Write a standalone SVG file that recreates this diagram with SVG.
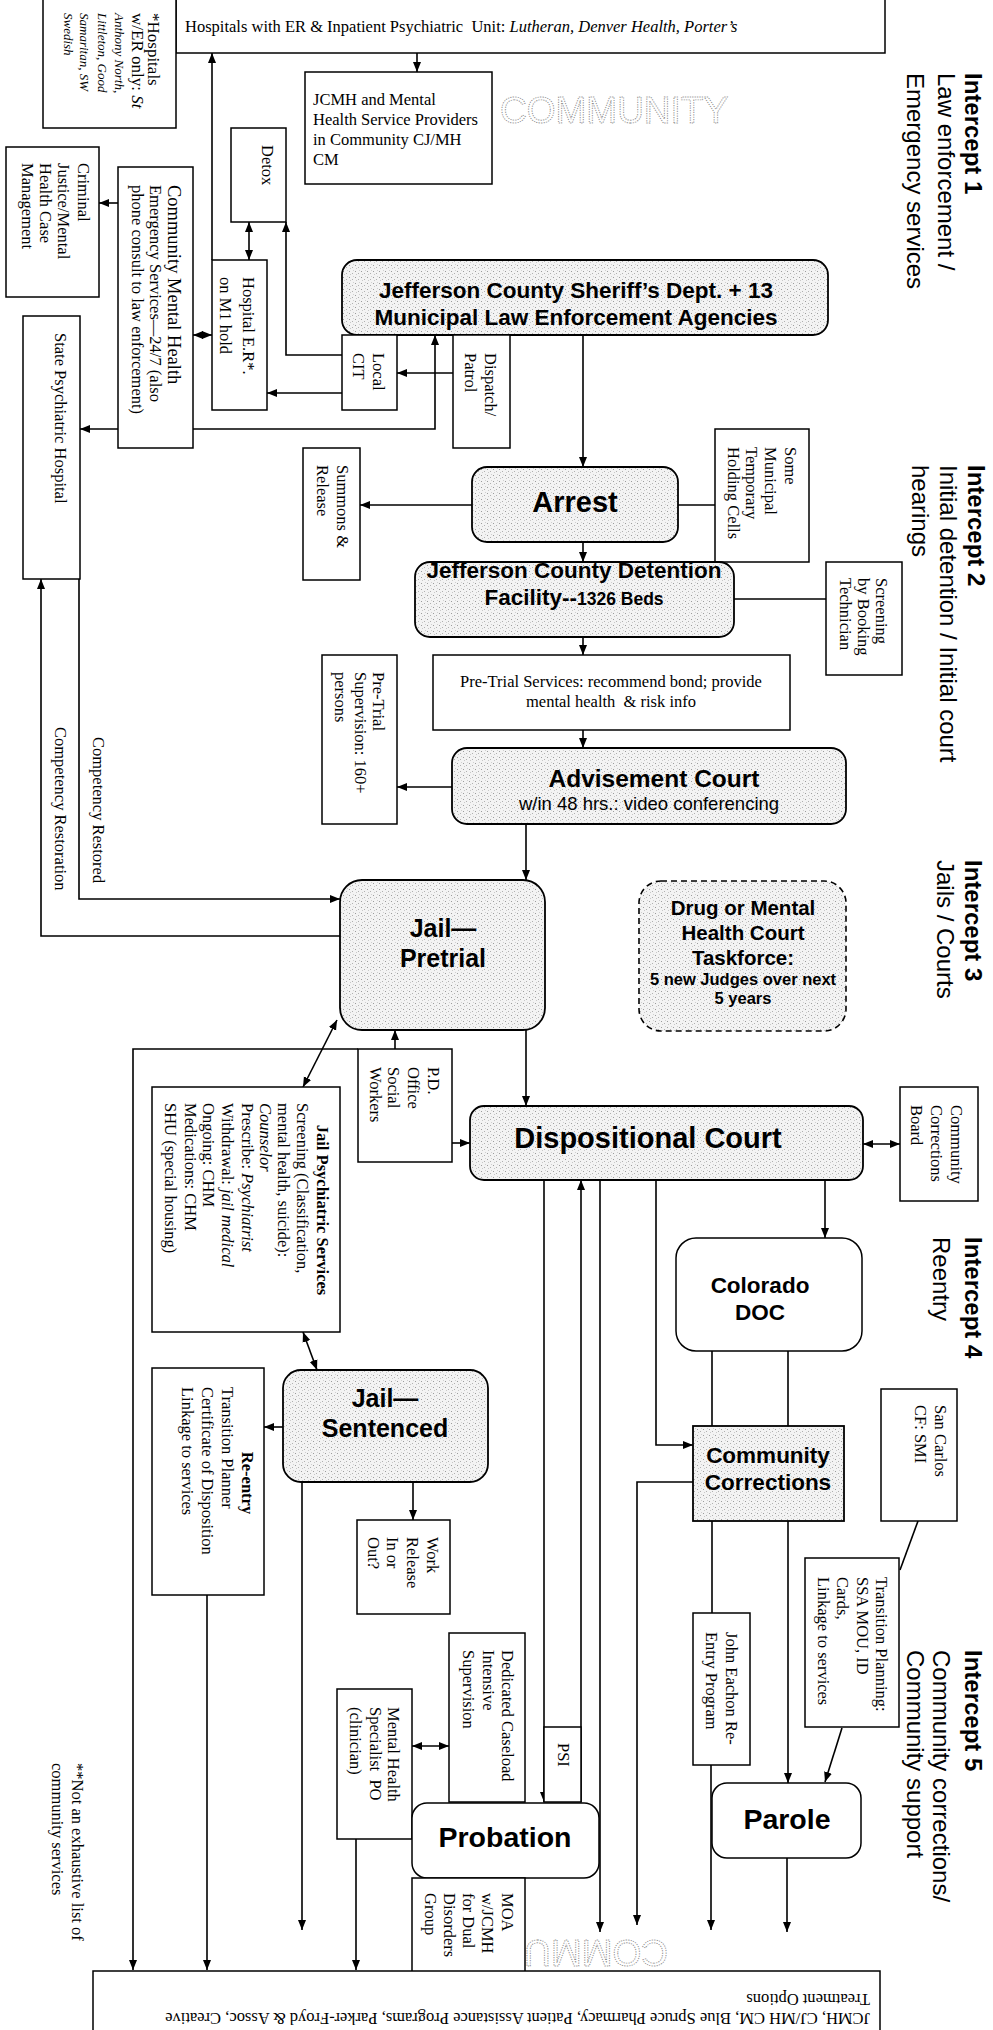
<svg xmlns="http://www.w3.org/2000/svg" width="993" height="2030" viewBox="0 0 993 2030">
<style>
.t{font-family:"Liberation Serif","Times New Roman",serif;font-size:16.5px;fill:#000}
.s{font-family:"Liberation Sans",Arial,sans-serif;fill:#000}
.b{font-weight:bold}
.i{font-style:italic}
.box{fill:#fff;stroke:#000;stroke-width:1.5}
.st{fill:url(#stip);stroke:#000;stroke-width:1.8}
.c{fill:none;stroke:#000;stroke-width:1.6}
.m{text-anchor:middle}
.wm{font-family:"Liberation Sans",Arial,sans-serif;font-size:37px;fill:none;stroke:#8a8a8a;stroke-width:0.9;stroke-dasharray:1.2,1.2}
</style>
<defs>
<pattern id="stip" width="6" height="6" patternUnits="userSpaceOnUse">
<rect width="6" height="6" fill="#f3f3f3"/>
<rect x="1" y="1" width="1" height="1" fill="#9c9c9c"/>
<rect x="4" y="3" width="1" height="1" fill="#b0b0b0"/>
<rect x="2" y="4" width="1" height="1" fill="#c8c8c8"/>
<rect x="5" y="0" width="1" height="1" fill="#d0d0d0"/>
</pattern>
<marker id="a" viewBox="0 0 10 10" refX="10" refY="5" markerWidth="10" markerHeight="10" markerUnits="userSpaceOnUse" orient="auto-start-reverse">
<path d="M0,1L10,5L0,9z" fill="#000"/>
</marker>
</defs>
<rect width="993" height="2030" fill="#fff"/>

<!-- watermarks -->
<text class="wm" x="500" y="123">COMMUNITY</text>
<text class="wm" transform="translate(668,1940) rotate(180)">COMMUNITY</text>

<g id="connectors">
<path class="c" d="M212,260V53" marker-end="url(#a)"/>
<path class="c" d="M417,53V72" marker-end="url(#a)"/>
<path class="c" d="M249,222V260" marker-start="url(#a)" marker-end="url(#a)"/>
<path class="c" d="M342,355H286V222" marker-end="url(#a)"/>
<path class="c" d="M342,393H267" marker-end="url(#a)"/>
<path class="c" d="M453,373H397" marker-end="url(#a)"/>
<path class="c" d="M193,335H212" marker-start="url(#a)" marker-end="url(#a)"/>
<path class="c" d="M118,203H99" marker-end="url(#a)"/>
<path class="c" d="M118,429H80" marker-end="url(#a)"/>
<path class="c" d="M193,429H435V335" marker-end="url(#a)"/>
<path class="c" d="M583,335V467" marker-end="url(#a)"/>
<path class="c" d="M472,505H360" marker-end="url(#a)"/>
<path class="c" d="M678,505H715"/>
<path class="c" d="M583,542V562" marker-end="url(#a)"/>
<path class="c" d="M734,599H826"/>
<path class="c" d="M583,637V655" marker-end="url(#a)"/>
<path class="c" d="M583,730V748" marker-end="url(#a)"/>
<path class="c" d="M452,787H397" marker-end="url(#a)"/>
<path class="c" d="M526,824V880" marker-end="url(#a)"/>
<path class="c" d="M79,579V899H340" marker-end="url(#a)"/>
<path class="c" d="M340,936H41V579" marker-end="url(#a)"/>
<path class="c" d="M526,1030V1106" marker-end="url(#a)"/>
<path class="c" d="M395,1049V1030" marker-end="url(#a)"/>
<path class="c" d="M452,1143H470" marker-end="url(#a)"/>
<path class="c" d="M337,1020L303,1087" marker-start="url(#a)" marker-end="url(#a)"/>
<path class="c" d="M358,1049H133V1970" marker-end="url(#a)"/>
<path class="c" d="M863,1144H900" marker-start="url(#a)" marker-end="url(#a)"/>
<path class="c" d="M303,1332L317,1370" marker-start="url(#a)" marker-end="url(#a)"/>
<path class="c" d="M283,1427H264" marker-end="url(#a)"/>
<path class="c" d="M207,1595V1970" marker-end="url(#a)"/>
<path class="c" d="M302,1482V1930" marker-end="url(#a)"/>
<path class="c" d="M413,1482V1520" marker-end="url(#a)"/>
<path class="c" d="M544,1180V1802" marker-end="url(#a)"/>
<path class="c" d="M581,1802V1180" marker-end="url(#a)"/>
<path class="c" d="M600,1180V1932" marker-end="url(#a)"/>
<path class="c" d="M656,1180V1445H693" marker-end="url(#a)"/>
<path class="c" d="M825,1180V1238" marker-end="url(#a)"/>
<path class="c" d="M712,1351V1426M788,1351V1426"/>
<path class="c" d="M693,1482H637V1925" marker-end="url(#a)"/>
<path class="c" d="M712,1521V1613"/>
<path class="c" d="M711,1765V1930" marker-end="url(#a)"/>
<path class="c" d="M788,1521V1783" marker-end="url(#a)"/>
<path class="c" d="M787,1858V1932" marker-end="url(#a)"/>
<path class="c" d="M918,1521L900,1570"/>
<path class="c" d="M842,1728L825,1782" marker-end="url(#a)"/>
<path class="c" d="M412,1746H449" marker-start="url(#a)" marker-end="url(#a)"/>
<path class="c" d="M356,1839V1970" marker-end="url(#a)"/>
</g>

<g id="hospitals-er-inpatient">
<rect class="box" x="176" y="-5" width="709" height="58"/>
<text class="t" x="185" y="32">Hospitals with ER &amp; Inpatient Psychiatric&#160; Unit: <tspan class="i">Lutheran, Denver Health, Porter’s</tspan></text>
</g>
<g id="hospitals-er-only">
<rect class="box" x="43" y="-5" width="133" height="133"/>
<text class="t" transform="translate(148,13) rotate(90)"><tspan x="0" y="0" font-size="17">*Hospitals</tspan><tspan x="0" y="16" font-size="17">w/ER only: <tspan class="i">St</tspan></tspan><tspan class="i" x="0" y="33" font-size="13">Anthony North,</tspan><tspan class="i" x="0" y="50" font-size="13">Littleton, Good</tspan><tspan class="i" x="0" y="68" font-size="13">Samaritan, SW</tspan><tspan class="i" x="0" y="84" font-size="13">Swedish</tspan></text>
</g>
<g id="jcmh">
<rect class="box" x="305" y="72" width="187" height="112"/>
<text class="t"><tspan x="313" y="105">JCMH and Mental</tspan><tspan x="313" y="125">Health Service Providers</tspan><tspan x="313" y="145">in Community CJ/MH</tspan><tspan x="313" y="165">CM</tspan></text>
</g>
<g id="detox">
<rect class="box" x="231" y="128" width="55" height="94"/>
<text class="t" font-size="18" transform="translate(262,145) rotate(90)">Detox</text>
</g>
<g id="hospital-er">
<rect class="box" x="212" y="260" width="55" height="150"/>
<text class="t" font-size="17" transform="translate(243,277) rotate(90)"><tspan x="0" y="0">Hospital E.R*.</tspan><tspan x="0" y="23">on M1 hold</tspan></text>
</g>
<g id="community-mental-health">
<rect class="box" x="118" y="167" width="75" height="281"/>
<text class="t" transform="translate(168,185) rotate(90)"><tspan x="0" y="0" font-size="18.5">Community Mental Health</tspan><tspan x="0" y="18">Emergency Services—24/7 (also</tspan><tspan x="0" y="36">phone consult to law enforcement)</tspan></text>
</g>
<g id="cj-mh-case-management">
<rect class="box" x="6" y="147" width="93" height="150"/>
<text class="t" font-size="17.5" transform="translate(78,163) rotate(90)"><tspan x="0" y="0">Criminal</tspan><tspan x="0" y="20">Justice/Mental</tspan><tspan x="0" y="38">Health Case</tspan><tspan x="0" y="56">Management</tspan></text>
</g>
<g id="state-psychiatric-hospital">
<rect class="box" x="23" y="316" width="57" height="263"/>
<text class="t" font-size="18.5" transform="translate(55,333) rotate(90)">State Psychiatric Hospital</text>
</g>
<g id="sheriff">
<rect class="st" x="342" y="260" width="486" height="75" rx="15"/>
<text class="s b m" font-size="22.5"><tspan x="576" y="298">Jefferson County Sheriff’s Dept. + 13</tspan><tspan x="576" y="325">Municipal Law Enforcement Agencies</tspan></text>
</g>
<g id="local-cit">
<rect class="box" x="342" y="335" width="55" height="75"/>
<text class="t" font-size="17" transform="translate(373,353) rotate(90)"><tspan x="0" y="0">Local</tspan><tspan x="0" y="20">CIT</tspan></text>
</g>
<g id="dispatch-patrol">
<rect class="box" x="453" y="335" width="57" height="113"/>
<text class="t" font-size="17" transform="translate(485,353) rotate(90)"><tspan x="0" y="0">Dispatch/</tspan><tspan x="0" y="20">Patrol</tspan></text>
</g>
<g id="summons-release">
<rect class="box" x="303" y="448" width="57" height="132"/>
<text class="t" font-size="17" transform="translate(337,465) rotate(90)"><tspan x="0" y="0">Summons &amp;</tspan><tspan x="0" y="20">Release</tspan></text>
</g>
<g id="arrest">
<rect class="st" x="472" y="467" width="206" height="75" rx="15"/>
<text class="s b m" font-size="29" x="575" y="512">Arrest</text>
</g>
<g id="holding-cells">
<rect class="box" x="715" y="429" width="94" height="133"/>
<text class="t" transform="translate(785,447) rotate(90)"><tspan x="0" y="0">Some</tspan><tspan x="0" y="20">Municipal</tspan><tspan x="0" y="39">Temporary</tspan><tspan x="0" y="57">Holding Cells</tspan></text>
</g>
<g id="detention-facility">
<rect class="st" x="415" y="562" width="319" height="75" rx="15"/>
<text class="s b m" font-size="22.5"><tspan x="574" y="578">Jefferson County Detention</tspan><tspan x="574" y="605">Facility--<tspan font-size="17.5">1326 Beds</tspan></tspan></text>
</g>
<g id="screening">
<rect class="box" x="826" y="562" width="76" height="113"/>
<text class="t" transform="translate(876,578) rotate(90)"><tspan x="0" y="0">Screening</tspan><tspan x="0" y="18">by Booking</tspan><tspan x="0" y="36">Technician</tspan></text>
</g>
<g id="pretrial-services">
<rect class="box" x="433" y="655" width="357" height="75"/>
<text class="t m"><tspan x="611" y="687">Pre-Trial Services: recommend bond; provide</tspan><tspan x="611" y="707">mental health&#160; &amp; risk info</tspan></text>
</g>
<g id="advisement-court">
<rect class="st" x="452" y="748" width="394" height="76" rx="15"/>
<text class="s b m" font-size="24.5" x="654" y="787">Advisement Court</text>
<text class="s m" font-size="18.5" x="649" y="810">w/in 48 hrs.: video conferencing</text>
</g>
<g id="pretrial-supervision">
<rect class="box" x="322" y="655" width="75" height="169"/>
<text class="t" transform="translate(373,672) rotate(90)"><tspan x="0" y="0">Pre-Trial</tspan><tspan x="0" y="18">Supervision: 160+</tspan><tspan x="0" y="38">persons</tspan></text>
</g>
<g id="competency-labels">
<text class="t" font-size="16" transform="translate(93,737) rotate(90)">Competency Restored</text>
<text class="t" font-size="16" transform="translate(55,727) rotate(90)">Competency Restoration</text>
</g>
<g id="jail-pretrial">
<rect class="st" x="340" y="880" width="205" height="150" rx="22"/>
<text class="s b m" font-size="25"><tspan x="443" y="937">Jail—</tspan><tspan x="443" y="967">Pretrial</tspan></text>
</g>
<g id="drug-mh-court">
<rect x="639" y="881" width="207" height="150" rx="22" fill="url(#stip)" stroke="#000" stroke-width="1.6" stroke-dasharray="6,4"/>
<text class="s b m" font-size="20.5"><tspan x="743" y="915">Drug or Mental</tspan><tspan x="743" y="940">Health Court</tspan><tspan x="743" y="965">Taskforce:</tspan><tspan x="743" y="985" font-size="16.5">5 new Judges over next</tspan><tspan x="743" y="1004" font-size="16.5">5 years</tspan></text>
</g>
<g id="dispositional-court">
<rect class="st" x="470" y="1106" width="393" height="74" rx="14"/>
<text class="s b m" font-size="29" x="648" y="1148">Dispositional Court</text>
</g>
<g id="community-corrections-board">
<rect class="box" x="900" y="1087" width="78" height="114"/>
<text class="t" transform="translate(951,1105) rotate(90)"><tspan x="0" y="0">Community</tspan><tspan x="0" y="20">Corrections</tspan><tspan x="0" y="40">Board</tspan></text>
</g>
<g id="pd-social-workers">
<rect class="box" x="358" y="1049" width="94" height="113"/>
<text class="t" font-size="17" transform="translate(428,1067) rotate(90)"><tspan x="0" y="0">P.D.</tspan><tspan x="0" y="20">Office</tspan><tspan x="0" y="40">Social</tspan><tspan x="0" y="58">Workers</tspan></text>
</g>
<g id="jail-psychiatric-services">
<rect class="box" x="152" y="1087" width="188" height="245"/>
<text class="t b m" transform="translate(317,1210) rotate(90)">Jail Psychiatric Services</text>
<text class="t" transform="translate(297,1103) rotate(90)"><tspan x="0" y="0">Screening (Classification,</tspan><tspan x="0" y="19">mental health, suicide):</tspan><tspan class="i" x="0" y="37">Counselor</tspan><tspan x="0" y="55">Prescribe: <tspan class="i">Psychiatrist</tspan></tspan><tspan x="0" y="75">Withdrawal: <tspan class="i">jail medical</tspan></tspan><tspan x="0" y="94">Ongoing: CHM</tspan><tspan x="0" y="112">Medications: CHM</tspan><tspan x="0" y="132">SHU (special housing)</tspan></text>
</g>
<g id="jail-sentenced">
<rect class="st" x="283" y="1370" width="205" height="112" rx="18"/>
<text class="s b m" font-size="25"><tspan x="385" y="1407">Jail—</tspan><tspan x="385" y="1437">Sentenced</tspan></text>
</g>
<g id="re-entry">
<rect class="box" x="152" y="1368" width="112" height="227"/>
<text class="t b m" transform="translate(242,1483) rotate(90)">Re-entry</text>
<text class="t" transform="translate(222,1387) rotate(90)"><tspan x="0" y="0">Transition Planner</tspan><tspan x="0" y="20">Certificate of Disposition</tspan><tspan x="0" y="40">Linkage to services</tspan></text>
</g>
<g id="work-release">
<rect class="box" x="357" y="1520" width="93" height="94"/>
<text class="t" transform="translate(427,1537) rotate(90)"><tspan x="0" y="0">Work</tspan><tspan x="0" y="20">Release</tspan><tspan x="0" y="40">In or</tspan><tspan x="0" y="59">Out?</tspan></text>
</g>
<g id="colorado-doc">
<rect class="box" x="676" y="1238" width="186" height="113" rx="20" stroke-width="1.8"/>
<text class="s b m" font-size="22.5"><tspan x="760" y="1293">Colorado</tspan><tspan x="760" y="1320">DOC</tspan></text>
</g>
<g id="community-corrections">
<rect class="st" x="693" y="1426" width="151" height="95" stroke-width="1.6"/>
<text class="s b m" font-size="22.5"><tspan x="768" y="1463">Community</tspan><tspan x="768" y="1490">Corrections</tspan></text>
</g>
<g id="san-carlos">
<rect class="box" x="881" y="1389" width="76" height="132"/>
<text class="t" transform="translate(935,1405) rotate(90)"><tspan x="0" y="0">San Carlos</tspan><tspan x="0" y="20">CF: SMI</tspan></text>
</g>
<g id="transition-planning">
<rect class="box" x="805" y="1558" width="94" height="169"/>
<text class="t" transform="translate(876,1577) rotate(90)"><tspan x="0" y="0">Transition Planning:</tspan><tspan x="0" y="19.5">SSA MOU, ID</tspan><tspan x="0" y="39">Cards,</tspan><tspan x="0" y="58.5">Linkage to services</tspan></text>
</g>
<g id="john-eachon">
<rect class="box" x="693" y="1613" width="57" height="152"/>
<text class="t" transform="translate(726,1632) rotate(90)"><tspan x="0" y="0">John Eachon Re-</tspan><tspan x="0" y="20">Entry Program</tspan></text>
</g>
<g id="parole">
<rect class="box" x="712" y="1783" width="149" height="75" rx="15" stroke-width="1.8"/>
<text class="s b m" font-size="28.5" x="787" y="1829">Parole</text>
</g>
<g id="psi">
<rect class="box" x="544" y="1727" width="37" height="75"/>
<text class="t" transform="translate(558,1743) rotate(90)">PSI</text>
</g>
<g id="dedicated-caseload">
<rect class="box" x="449" y="1633" width="76" height="169"/>
<text class="t" transform="translate(502,1650) rotate(90)"><tspan x="0" y="0">Dedicated Caseload</tspan><tspan x="0" y="19">Intensive</tspan><tspan x="0" y="39">Supervision</tspan></text>
</g>
<g id="mh-specialist-po">
<rect class="box" x="337" y="1689" width="75" height="150"/>
<text class="t" transform="translate(388,1707) rotate(90)"><tspan x="0" y="0">Mental Health</tspan><tspan x="0" y="18">Specialist&#160; PO</tspan><tspan x="0" y="38">(clinician)</tspan></text>
</g>
<g id="probation">
<rect class="box" x="412" y="1803" width="187" height="75" rx="15" stroke-width="1.8"/>
<text class="s b m" font-size="28.5" x="505" y="1847">Probation</text>
</g>
<g id="moa">
<rect class="box" x="412" y="1878" width="113" height="112"/>
<text class="t" transform="translate(502,1893) rotate(90)"><tspan x="0" y="0">MOA</tspan><tspan x="0" y="20">w/JCMH</tspan><tspan x="0" y="39">for Dual</tspan><tspan x="0" y="58">Disorders</tspan><tspan x="0" y="77">Group</tspan></text>
</g>
<g id="community-treatment">
<rect class="box" x="93" y="1971" width="787" height="70"/>
<text class="t" transform="translate(870,2013) rotate(180)">JCMH, CJ/MH CM, Blue Spruce Pharmacy, Patient Assistance Programs, Parker-Froyd &amp; Assoc, Creative</text>
<text class="t" transform="translate(870,1994) rotate(180)">Treatment Options</text>
</g>
<g id="footnote">
<text class="t" transform="translate(72,1763) rotate(90)"><tspan x="0" y="0">**Not an exhaustive list of</tspan><tspan x="0" y="20">community services</tspan></text>
</g>

<g id="intercept-labels">
<text class="s" font-size="24" transform="translate(965,73) rotate(90)"><tspan class="b" x="0" y="0">Intercept 1</tspan><tspan x="0" y="27">Law enforcement /</tspan><tspan x="0" y="58">Emergency services</tspan></text>
<text class="s" font-size="24" transform="translate(968,465) rotate(90)"><tspan class="b" x="0" y="0">Intercept 2</tspan><tspan x="0" y="28">Initial detention / Initial court</tspan><tspan x="0" y="56">hearings</tspan></text>
<text class="s" font-size="24" transform="translate(965,860) rotate(90)"><tspan class="b" x="0" y="0">Intercept 3</tspan><tspan x="0" y="28">Jails / Courts</tspan></text>
<text class="s" font-size="24" transform="translate(965,1237) rotate(90)"><tspan class="b" x="0" y="0">Intercept 4</tspan><tspan x="0" y="32">Reentry</tspan></text>
<text class="s" font-size="24" transform="translate(965,1650) rotate(90)"><tspan class="b" x="0" y="0">Intercept 5</tspan><tspan x="0" y="32">Community corrections/</tspan><tspan x="0" y="58">Community support</tspan></text>
</g>
</svg>
